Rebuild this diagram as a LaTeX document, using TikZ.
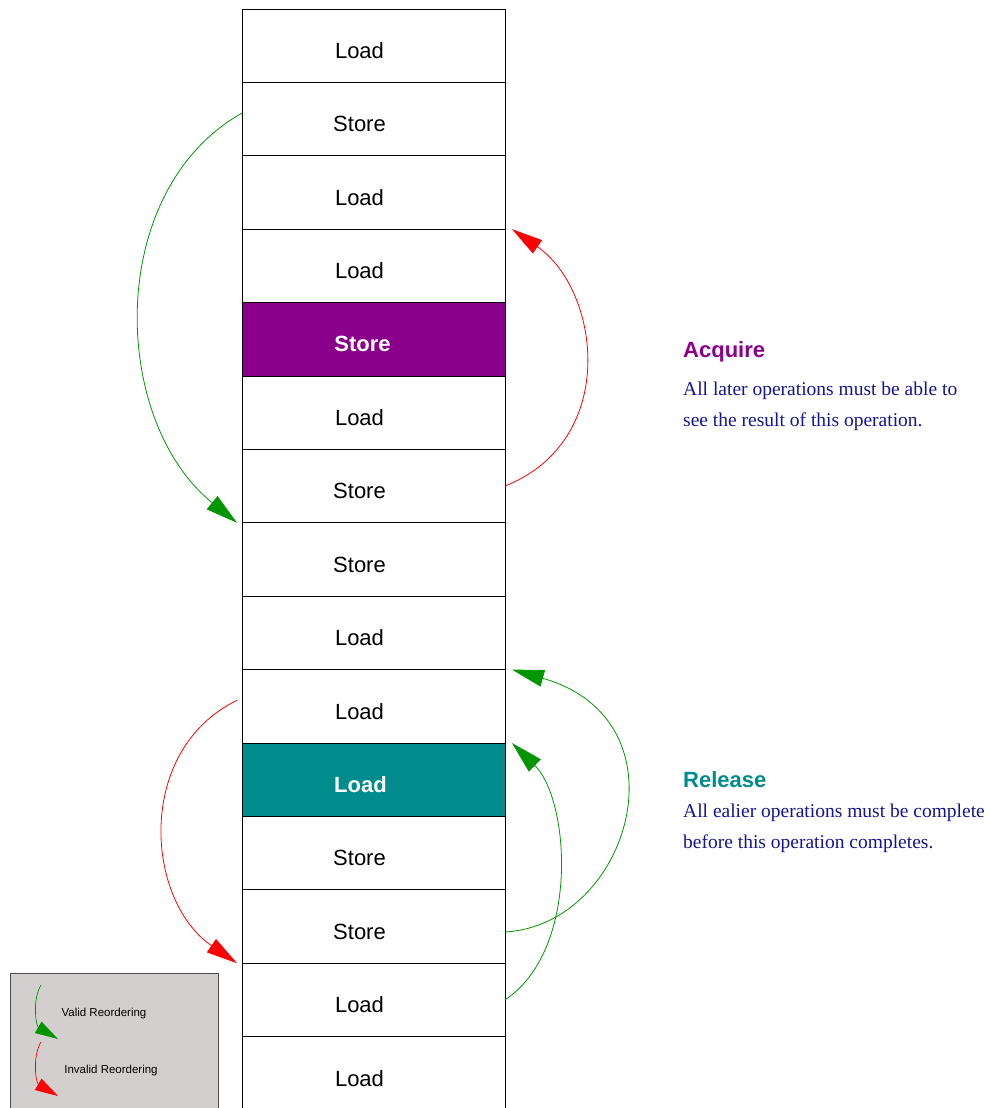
\documentclass[tikz,border=0pt]{standalone}
\usepackage{fontspec}
\setmainfont{Liberation Serif}
\setsansfont{Liberation Sans}
\usetikzlibrary{arrows.meta}
\definecolor{acqpurple}{RGB}{139,0,139}
\definecolor{relteal}{RGB}{0,140,140}
\definecolor{okgreen}{RGB}{0,150,0}
\definecolor{badred}{RGB}{255,0,0}
\definecolor{bodyblue}{RGB}{20,20,150}
\definecolor{legendgray}{RGB}{212,207,207}
\begin{document}
\begin{tikzpicture}[x=1pt,y=-1pt,
  op/.style={draw=black, line width=0.9pt, minimum width=263pt, minimum height=73.4pt, inner sep=0pt, outer sep=0pt, anchor=center},
  oplabel/.style={font=\sffamily\fontsize{22}{26}\selectfont},
  valid/.style={draw=okgreen, line width=0.8pt, -{Triangle[length=32pt,width=17pt]}, okgreen},
  invalid/.style={draw=badred, line width=0.8pt, -{Triangle[length=31pt,width=16pt]}, badred},
  lvalid/.style={draw=okgreen, line width=0.7pt, -{Triangle[length=23pt,width=13pt]}, okgreen},
  linvalid/.style={draw=badred, line width=0.7pt, -{Triangle[length=23pt,width=13pt]}, badred},
  headtxt/.style={font=\sffamily\bfseries\fontsize{22}{26}\selectfont, anchor=west, inner sep=0pt},
  bodytxt/.style={font=\fontsize{19.5}{31}\selectfont, color=bodyblue, anchor=west, align=left, inner sep=0pt},
  legtxt/.style={font=\sffamily\fontsize{11.5}{13}\selectfont, inner sep=0pt}
]
\useasboundingbox (0,0) rectangle (990,1108);
\clip (0,0) rectangle (990,1108);

% rows
\foreach \i/\t/\f/\c in {1/Load/white/black, 2/Store/white/black, 3/Load/white/black, 4/Load/white/black,
  5/Store/acqpurple/white, 6/Load/white/black, 7/Store/white/black, 8/Store/white/black,
  9/Load/white/black, 10/Load/white/black, 11/Load/relteal/white, 12/Store/white/black,
  13/Store/white/black, 14/Load/white/black, 15/Load/white/black} {
  \pgfmathsetmacro{\yy}{9+73.4*(\i-1)+36.7}
  \ifnum\i=5
    \node[op, fill=\f, label={[oplabel, font=\sffamily\bfseries\fontsize{22}{26}\selectfont, text=\c, xshift=-11pt, yshift=-5pt]center:\t}] (r\i) at (373.5,\yy) {};
  \else\ifnum\i=11
    \node[op, fill=\f, label={[oplabel, font=\sffamily\bfseries\fontsize{22}{26}\selectfont, text=\c, xshift=-13pt, yshift=-5pt]center:\t}] (r\i) at (373.5,\yy) {};
  \else
    \node[op, fill=\f, label={[oplabel, text=\c, xshift=-14pt, yshift=-5pt]center:\t}] (r\i) at (373.5,\yy) {};
  \fi\fi
}

% reordering arrows
\draw[valid] ([yshift=6pt]r2.west) .. controls (105,190) and (110,420) .. ([xshift=-5pt]r8.north west);
\draw[invalid] (r7.east) .. controls (620,440) and (600,290) .. ([xshift=7pt]r4.north east);
\draw[invalid] ([xshift=-5pt,yshift=6pt]r10.west) .. controls (135,750) and (145,900) .. ([xshift=-5pt]r14.north west);
\draw[valid] ([yshift=-5.5pt]r13.east) .. controls (630,925) and (690,720) .. ([xshift=7pt]r10.north east);
\draw[valid] (r14.east) .. controls (580,950) and (570,800) .. ([xshift=7pt]r11.north east);

% descriptions
\node[headtxt, text=acqpurple] (acq) at (683,352) {Acquire};
\node[bodytxt] (acqbody) at (683,406) {All later operations must be able to\\see the result of this operation.};
\node[headtxt, text=relteal] (rel) at (683,780) {Release};
\node[bodytxt] (relbody) at (683,828) {All ealier operations must be complete\\before this operation completes.};

% legend
\node[draw=black!70, line width=0.9pt, fill=legendgray, minimum width=208pt, minimum height=150pt, anchor=north west, inner sep=0pt] (legend) at (10,973) {};
\coordinate (lgs) at (41,985);
\coordinate (lge) at (58,1039);
\coordinate (lrs) at (41,1042);
\coordinate (lre) at (58,1096);
\draw[lvalid] (lgs) .. controls (32,1000) and (36,1026) .. (lge);
\draw[linvalid] (lrs) .. controls (32,1057) and (36,1083) .. (lre);
\node[legtxt] (lgt) at (104,1014) {Valid Reordering};
\node[legtxt] (lrt) at (111,1071) {Invalid Reordering};
\end{tikzpicture}
\end{document}
